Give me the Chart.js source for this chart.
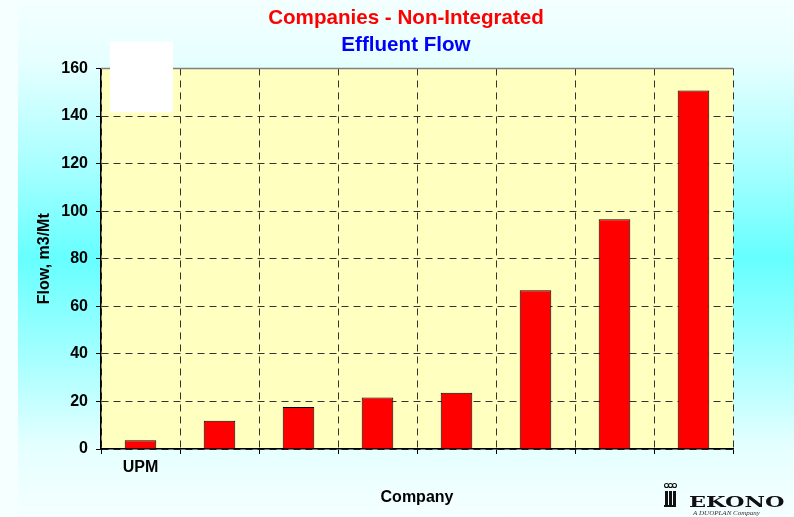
<!DOCTYPE html>
<html><head><meta charset="utf-8">
<script src="https://cdn.jsdelivr.net/npm/chart.js@4"></script>
<style>
html,body{margin:0;padding:0;}
body{width:794px;height:517px;overflow:hidden;background:#f6ffff;position:relative;}
#bg{position:absolute;left:18px;top:0;width:776px;height:517px;
 background:linear-gradient(to bottom,#f4ffff 0%,#e6ffff 12%,#a8ffff 32%,#66ffff 50%,#a8ffff 70%,#e4ffff 86%,#f5ffff 100%);}
#wrap{position:absolute;left:0;top:0;width:794px;height:517px;}
</style></head>
<body><div id="bg"></div><div id="wrap"><canvas id="c" width="794" height="517"></canvas></div>
<script>
const categories = ['UPM', '', '', '', '', '', '', ''];
const flowValues = [3.7, 11.9, 17.7, 21.6, 23.6, 66.7, 96.6, 150.7];
const yMin = 0, yMax = 160, yStep = 20;
const titleText = 'Companies - Non-Integrated';
const subtitleText = 'Effluent Flow';
const xAxisTitle = 'Company';
const yAxisTitle = 'Flow, m3/Mt';
const logoName = 'EKONO';
const logoTag = 'A DUOPLAN Company';

const FONT = '"Liberation Sans", Arial, sans-serif';
const f16 = {family: FONT, size: 16, weight: 'bold'};
const f20 = {family: FONT, size: 20.6, weight: 'bold'};

const deco = {
  id: 'deco',
  beforeDraw(chart) {
    const {ctx, chartArea: a} = chart;
    ctx.save();
    ctx.fillStyle = '#ffffc0';
    ctx.fillRect(a.left, a.top, a.right - a.left, a.bottom - a.top);
    ctx.restore();
  },
  afterDraw(chart) {
    const {ctx, chartArea: a} = chart;
    ctx.save();
    // top border of plot area
    ctx.strokeStyle = '#808080';
    ctx.lineWidth = 1.5;
    ctx.beginPath(); ctx.moveTo(a.left, a.top); ctx.lineTo(a.right, a.top); ctx.stroke();
    // white box
    ctx.fillStyle = '#ffffff';
    ctx.fillRect(a.left + 9, a.top - 27, 63, 71);
    // logo icon
    ctx.fillStyle = '#111';
    ctx.strokeStyle = '#111';
    ctx.lineWidth = 1.1;
    for (let i = 0; i < 3; i++) {
      const x = 665 + i * 4;
      ctx.fillRect(x, 491, 3, 16);
      ctx.beginPath(); ctx.arc(x + 1.5, 485.5, 2, 0, Math.PI * 2); ctx.stroke();
    }
    ctx.fillRect(664, 505, 12, 2);
    // logo text
    ctx.save();
    ctx.translate(689, 507);
    ctx.scale(1.6, 1);
    ctx.font = 'bold 14px "DejaVu Serif", serif';
    ctx.textBaseline = 'alphabetic';
    ctx.fillText(logoName, 0, 0);
    ctx.restore();
    ctx.font = 'italic 7px "Liberation Serif", serif';
    ctx.textBaseline = 'middle';
    ctx.fillStyle = '#333';
    ctx.fillText(logoTag, 693, 513);
    ctx.restore();
  }
};

new Chart(document.getElementById('c'), {
  type: 'bar',
  data: {
    labels: categories,
    datasets: [{
      data: flowValues,
      backgroundColor: '#ff0000',
      borderColor: '#000000',
      borderWidth: 1,
      borderSkipped: 'bottom',
      barPercentage: 0.4,
      categoryPercentage: 1
    }]
  },
  options: {
    responsive: false,
    animation: false,
    layout: {padding: {left: 18, right: 0, top: 0, bottom: 0}},
    plugins: {
      legend: {display: false},
      tooltip: {enabled: false},
      title: {display: true, text: titleText, color: '#ff0000', font: f20, padding: {top: 6, bottom: 0}},
      subtitle: {display: true, text: subtitleText, color: '#0000ff', font: f20, padding: {top: 2, bottom: 11}}
    },
    scales: {
      x: {
        grid: {offset: true, color: c => c.index === 8 ? '#808080' : '#333333', lineWidth: 1, tickLength: 5, tickColor: '#000'},
        border: {display: true, color: '#000', width: 1.5, dash: [7, 5]},
        ticks: {color: '#000', font: f16, padding: 4, maxRotation: 0, autoSkip: false},
        title: {display: true, text: xAxisTitle, color: '#000', font: f16, padding: {top: 0, bottom: 10}},
        afterFit(s) { s.height = 68; }
      },
      y: {
        min: yMin, max: yMax,
        ticks: {stepSize: yStep, color: '#000', font: f16, padding: 8},
        grid: {color: c => (c.tick && c.tick.value === yMax) ? 'rgba(0,0,0,0)' : '#333333', lineWidth: 1, tickLength: 5, tickColor: '#000'},
        border: {display: true, color: '#000', width: 1.5, dash: [7, 5]},
        title: {display: true, text: yAxisTitle, color: '#000', font: f16, padding: {top: 17, bottom: 0}},
        afterFit(s) { s.width = 83; }
      },
      y2: {
        position: 'right', display: true,
        grid: {display: false}, border: {display: false}, ticks: {display: false},
        afterFit(s) { s.width = 61; }
      }
    }
  },
  plugins: [deco]
});
</script>
</body></html>
